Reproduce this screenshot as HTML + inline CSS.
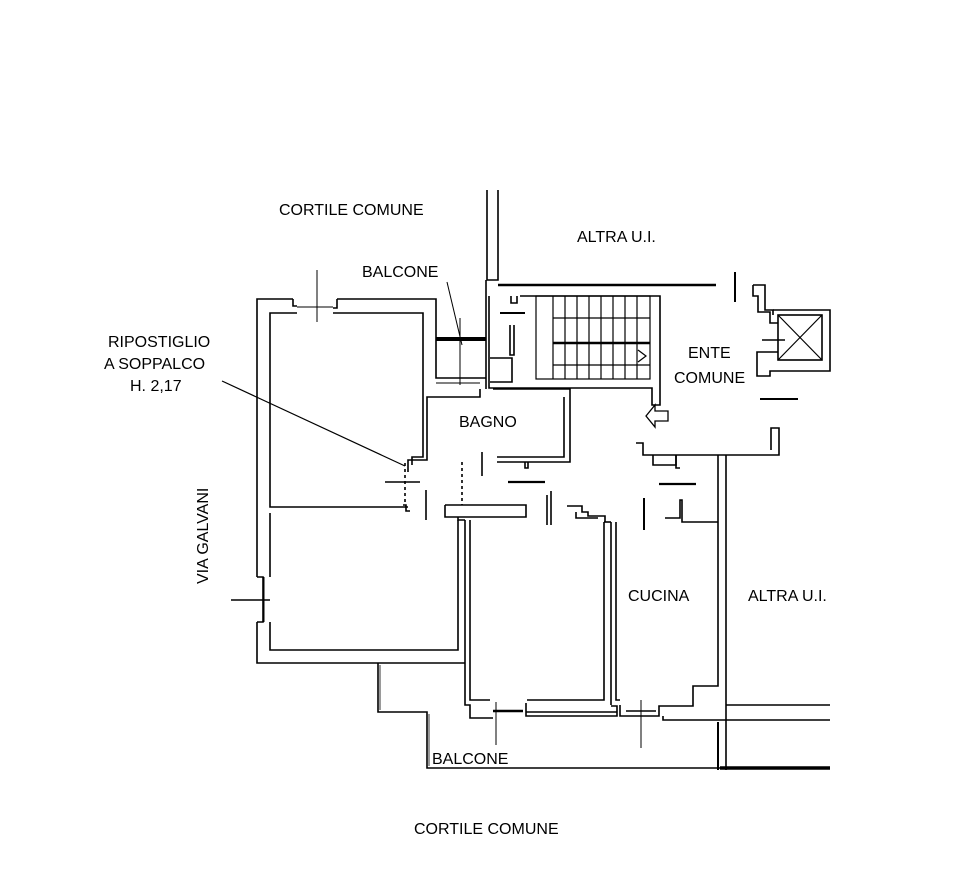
<!DOCTYPE html>
<html><head><meta charset="utf-8"><style>
html,body{margin:0;padding:0;background:#fff;}
svg{display:block}
text{font-family:"Liberation Sans",sans-serif;font-size:16px;fill:#000;}
</style></head><body>
<svg width="958" height="882" viewBox="0 0 958 882" xmlns="http://www.w3.org/2000/svg">
<g fill="none" stroke="#000" stroke-width="1.6">
<polyline points="293,299 257,299 257,577"/>
<polyline points="257,622 257,663 465,663"/>
<polyline points="337,299 436,299 436,378 486,378"/>
<polyline points="293,299 293,306 297,306"/>
<polyline points="337,299 337,308 333,308"/>
<line x1="297" y1="307" x2="333" y2="307" stroke-width="1"/>
<line x1="317" y1="270" x2="317" y2="322" stroke-width="1"/>
<polyline points="297,313 270,313 270,507 408,507"/>
<polyline points="333,313 423,313 423,457 412,457 412,465"/>
<polyline points="270,513 270,577"/>
<polyline points="270,622 270,650 458,650 458,520"/>
<polyline points="257,577 263,577 263,622 257,622"/>
<line x1="231" y1="600" x2="270" y2="600"/>
<line x1="264" y1="577" x2="264" y2="622" stroke-width="1"/>
<line x1="436" y1="339" x2="486" y2="339" stroke-width="4"/>
<line x1="486" y1="280" x2="486" y2="389"/>
<line x1="436" y1="383" x2="480" y2="383" stroke-width="1"/>
<line x1="460" y1="318" x2="460" y2="385" stroke-width="1"/>
<line x1="447" y1="282" x2="462" y2="345" stroke-width="1"/>
<polyline points="487,190 487,280 498,280 498,190"/>
<line x1="498" y1="285" x2="716" y2="285" stroke-width="2.4"/>
<line x1="735" y1="272" x2="735" y2="302" stroke-width="2"/>
<polyline points="489,296 489,388 652,388 652,405 660,405 660,296 520,296"/>
<polyline points="511,296 511,303 517,303 517,296"/>
<line x1="500" y1="313" x2="525" y2="313" stroke-width="2"/>
<polyline points="510,325 510,355 514,355 514,325"/>
<polyline points="490,358 512,358 512,382 490,382"/>
<rect x="536" y="296" width="114" height="83" stroke-width="1.2"/>
<g stroke-width="1.2">
<line x1="553" y1="296" x2="553" y2="379"/><line x1="565" y1="296" x2="565" y2="379"/>
<line x1="577" y1="296" x2="577" y2="379"/><line x1="589" y1="296" x2="589" y2="379"/>
<line x1="601" y1="296" x2="601" y2="379"/><line x1="613" y1="296" x2="613" y2="379"/>
<line x1="625" y1="296" x2="625" y2="379"/><line x1="637" y1="296" x2="637" y2="379"/>
<line x1="553" y1="318" x2="650" y2="318"/>
<line x1="553" y1="343" x2="650" y2="343" stroke-width="2.5"/>
<line x1="553" y1="365" x2="650" y2="365"/>
<polyline points="638,350 646,356 638,362"/>
</g>
<polyline points="480,389 480,397 427,397 427,460 408,460 408,472"/>
<polyline points="493,389 570,389 570,462 497,462"/>
<polyline points="564,397 564,457 497,457"/>
<line x1="482" y1="452" x2="482" y2="476"/>
<polyline points="525,462 525,468 528,468 528,462"/>
<line x1="385" y1="482" x2="420" y2="482"/>
<line x1="508" y1="482" x2="545" y2="482" stroke-width="2.2"/>
<line x1="405" y1="463" x2="405" y2="502" stroke-dasharray="3 3"/>
<line x1="462" y1="462" x2="462" y2="505" stroke-dasharray="3 3"/>
<line x1="426" y1="490" x2="426" y2="520"/>
<polyline points="403,505 406,505 406,511 410,511"/>
<polyline points="445,505 526,505 526,517 445,517 445,505"/>
<polyline points="458,517 458,520 465,520"/>
<line x1="547" y1="495" x2="547" y2="525"/>
<line x1="551" y1="491" x2="551" y2="525"/>
<polyline points="567,506 582,506 582,512 588,512 588,516 605,516 605,522"/>
<polyline points="576,512 576,518 598,518"/>
<polyline points="636,443 643,443 643,455 779,455 779,428 771,428 771,450"/>
<line x1="760" y1="399" x2="798" y2="399" stroke-width="2"/>
<polyline points="653,455 653,465 676,465 676,455"/>
<polyline points="676,455 676,468 680,468"/>
<line x1="659" y1="484" x2="696" y2="484" stroke-width="2.2"/>
<line x1="644" y1="498" x2="644" y2="530" stroke-width="2"/>
<polyline points="665,518 680,518 680,500 682,500 682,522 718,522"/>
<polyline points="718,455 718,522"/>
<polyline points="726,455 726,770"/>
<polyline points="753,285 765,285 765,310 773,310 773,315"/>
<polyline points="753,285 753,296 758,296 758,312 770,312 770,323 778,323"/>
<rect x="778" y="315" width="44" height="45"/>
<line x1="778" y1="315" x2="822" y2="360" stroke-width="1.2"/>
<line x1="822" y1="315" x2="778" y2="360" stroke-width="1.2"/>
<polyline points="773,310 830,310 830,371 770,371 770,376 757,376 757,352 778,352"/>
<line x1="762" y1="340" x2="785" y2="340"/>
<polygon points="646,416 655,405 655,411 668,411 668,421 655,421 655,427" stroke-width="1.3"/>
<polyline points="465,520 465,705 470,705 470,718 493,718"/>
<polyline points="470,520 470,700 490,700"/>
<polyline points="527,700 604,700 604,522"/>
<polyline points="611,522 611,705"/>
<line x1="526" y1="712" x2="617" y2="712"/>
<polyline points="526,703 526,716 617,716 617,706 611,706"/>
<line x1="493" y1="711" x2="523" y2="711" stroke-width="2.5"/>
<line x1="496" y1="702" x2="496" y2="745" stroke-width="1"/>
<polyline points="611,522 604,522"/>
<polyline points="616,522 616,700 620,700"/>
<polyline points="620,705 620,716 659,716 659,706 693,706 693,686 718,686 718,522"/>
<line x1="626" y1="711" x2="656" y2="711" stroke-width="1.5"/>
<line x1="641" y1="700" x2="641" y2="748" stroke-width="1"/>
<polyline points="726,705 830,705"/>
<polyline points="663,716 663,720 830,720"/>
<line x1="718" y1="722" x2="718" y2="770" stroke-width="2"/>
<polyline points="378,663 378,712 427,712 427,768 720,768"/>
<line x1="720" y1="768" x2="830" y2="768" stroke-width="3.5"/>
<line x1="380" y1="665" x2="380" y2="710" stroke-width="0.8"/>
<line x1="429" y1="714" x2="429" y2="766" stroke-width="0.8"/>
<line x1="222" y1="381" x2="405" y2="466" stroke-width="1.2"/>
</g>
<text x="279" y="215">CORTILE COMUNE</text>
<text x="577" y="242">ALTRA U.I.</text>
<text x="362" y="277">BALCONE</text>
<text x="108" y="347">RIPOSTIGLIO</text>
<text x="104" y="369">A SOPPALCO</text>
<text x="130" y="391">H. 2,17</text>
<text x="688" y="358">ENTE</text>
<text x="674" y="383">COMUNE</text>
<text x="459" y="427">BAGNO</text>
<text x="628" y="601">CUCINA</text>
<text x="748" y="601">ALTRA U.I.</text>
<text x="432" y="764">BALCONE</text>
<text x="414" y="834">CORTILE COMUNE</text>
<text transform="translate(208,584) rotate(-90)">VIA GALVANI</text>
</svg>
</body></html>
